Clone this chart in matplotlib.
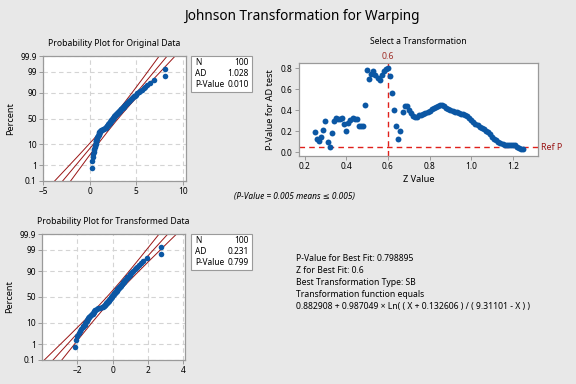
import numpy as np
import matplotlib
matplotlib.use("Agg")
import matplotlib.pyplot as plt
from matplotlib.patches import Rectangle
from statistics import NormalDist

plt.rcParams["font.family"] = ["Noto Sans", "DejaVu Sans"]

# ---------------------------------------------------------------
# data
# ---------------------------------------------------------------
original = [
    0.29, 0.31, 0.35, 0.39, 0.43, 0.47, 0.51, 0.54, 0.58, 0.61,
    0.64, 0.67, 0.69, 0.71, 0.74, 0.76, 0.79, 0.83, 0.88, 0.93,
    0.96, 0.98, 1.01, 1.03, 1.05, 1.08, 1.12, 1.20, 1.32, 1.45,
    1.56, 1.64, 1.71, 1.77, 1.83, 1.88, 1.93, 1.97, 2.02, 2.06,
    2.10, 2.14, 2.19, 2.23, 2.27, 2.32, 2.35, 2.39, 2.43, 2.47,
    2.50, 2.54, 2.58, 2.62, 2.66, 2.71, 2.76, 2.81, 2.86, 2.91,
    2.96, 3.01, 3.07, 3.12, 3.18, 3.24, 3.30, 3.36, 3.42, 3.48,
    3.54, 3.60, 3.65, 3.70, 3.77, 3.84, 3.91, 3.98, 4.05, 4.13,
    4.20, 4.27, 4.36, 4.45, 4.55, 4.65, 4.77, 4.87, 4.99, 5.12,
    5.27, 5.44, 5.64, 5.81, 5.98, 6.19, 6.52, 6.96, 8.07, 8.07,
]

# Johnson SB fit shown in the chart
SB_GAMMA = 0.882908
SB_DELTA = 0.987049
SB_LOW = 0.132606
SB_HIGH = 9.31101

z_values = [
    0.25, 0.26, 0.27, 0.28, 0.29, 0.30, 0.31, 0.32, 0.33, 0.34,
    0.35, 0.36, 0.37, 0.38, 0.39, 0.40, 0.41, 0.42, 0.43, 0.44,
    0.45, 0.46, 0.47, 0.48, 0.49, 0.50, 0.51, 0.52, 0.53, 0.54,
    0.55, 0.56, 0.57, 0.58, 0.59, 0.60, 0.61, 0.62, 0.63, 0.64,
    0.65, 0.66, 0.67, 0.68, 0.69, 0.70, 0.71, 0.72, 0.73, 0.74,
    0.75, 0.76, 0.77, 0.78, 0.79, 0.80, 0.81, 0.82, 0.83, 0.84,
    0.85, 0.86, 0.87, 0.88, 0.89, 0.90, 0.91, 0.92, 0.93, 0.94,
    0.95, 0.96, 0.97, 0.98, 0.99, 1.00, 1.01, 1.02, 1.03, 1.04,
    1.05, 1.06, 1.07, 1.08, 1.09, 1.10, 1.11, 1.12, 1.13, 1.14,
    1.15, 1.16, 1.17, 1.18, 1.19, 1.20, 1.21, 1.22, 1.23, 1.24,
    1.25,
]
p_values = [
    0.19, 0.125, 0.105, 0.15, 0.21, 0.30, 0.10, 0.05, 0.18, 0.30,
    0.33, 0.32, 0.32, 0.33, 0.27, 0.20, 0.28, 0.31, 0.33, 0.32,
    0.32, 0.25, 0.25, 0.25, 0.45, 0.78, 0.70, 0.74, 0.77, 0.73,
    0.71, 0.69, 0.73, 0.77, 0.79, 0.799, 0.72, 0.56, 0.40, 0.25,
    0.125, 0.20, 0.38, 0.44, 0.44, 0.40, 0.37, 0.345, 0.335, 0.34,
    0.35, 0.355, 0.36, 0.375, 0.385, 0.395, 0.41, 0.42, 0.43, 0.44,
    0.45, 0.45, 0.44, 0.425, 0.41, 0.40, 0.395, 0.385, 0.38, 0.37,
    0.365, 0.36, 0.355, 0.345, 0.33, 0.31, 0.29, 0.27, 0.255, 0.245,
    0.235, 0.22, 0.205, 0.19, 0.17, 0.15, 0.13, 0.115, 0.10, 0.085,
    0.075, 0.072, 0.072, 0.072, 0.072, 0.07, 0.065, 0.055, 0.045, 0.035,
    0.03,
]
best_z = 0.6
ref_p = 0.05

stats_original = [("N", "100"), ("AD", "1.028"), ("P-Value", "0.010")]
stats_transformed = [("N", "100"), ("AD", "0.231"), ("P-Value", "0.799")]

percent_ticks = [0.1, 1, 10, 50, 90, 99, 99.9]
percent_labels = ["0.1", "1", "10", "50", "90", "99", "99.9"]

fit_lines = [
    "P-Value for Best Fit: 0.798895",
    "Z for Best Fit: 0.6",
    "Best Transformation Type: SB",
    "Transformation function equals",
    "0.882908 + 0.987049 \u00d7 Ln( ( X + 0.132606 ) / ( 9.31101 - X ) )",
]

transformed = SB_GAMMA + SB_DELTA * np.log(
    (np.array(original) + SB_LOW) / (SB_HIGH - np.array(original)))

# ---------------------------------------------------------------
# styling
# ---------------------------------------------------------------
W, H = 576, 384
BG = "#e8e8e8"
BLUE = "#0b57a4"
DARKRED = "#9a1515"
RED = "#e0201b"
SPINE = "#9a9a9a"
GRID = "#d4d4d4"
FS = 6.0
nd = NormalDist()


def px_axes(fig, left, top, right, bottom):
    return fig.add_axes([left / W, 1 - bottom / H, (right - left) / W, (bottom - top) / H])


def fig_text(fig, x, y, s, **kw):
    fig.text(x / W, 1 - y / H, s, **kw)


def style_axes(ax):
    for sp in ax.spines.values():
        sp.set_color(SPINE)
        sp.set_linewidth(0.9)
    ax.tick_params(direction="out", length=3, width=0.7, color=SPINE,
                   labelsize=FS, pad=1.5)


def prob_plot(ax, data, xlim, xticks):
    x = np.sort(np.asarray(data, dtype=float))
    n = len(x)
    ranks = np.arange(1, n + 1)
    zq = np.array([nd.inv_cdf(p) for p in (ranks - 0.3) / (n + 0.4)])
    mu, sd = x.mean(), x.std(ddof=1)

    zz = np.linspace(-3.3, 3.3, 300)
    fit = mu + sd * zz
    half = 1.96 * sd * np.sqrt(1 / n + zz ** 2 / (2 * n))
    for line in (fit, fit - half, fit + half):
        ax.plot(line, zz, color=DARKRED, lw=0.7, zorder=2)
    ax.scatter(x, zq, s=16, color=BLUE, zorder=3, linewidths=0)

    ax.set_xlim(*xlim)
    ax.set_ylim(nd.inv_cdf(0.001) - 0.02, nd.inv_cdf(0.999) + 0.02)
    ax.set_xticks(xticks)
    ax.set_yticks([nd.inv_cdf(p / 100) for p in percent_ticks])
    ax.set_yticklabels(percent_labels)
    ax.grid(True, ls=(0, (4, 3)), color=GRID, lw=0.8)
    ax.set_axisbelow(True)
    ax.set_ylabel("Percent", fontsize=FS + 0.6, labelpad=4)
    style_axes(ax)


def stats_box(fig, top, rows):
    fig.add_artist(Rectangle((191 / W, 1 - (top + 36) / H), 61 / W, 36 / H,
                             transform=fig.transFigure, facecolor="white",
                             edgecolor=SPINE, lw=0.8))
    for k, (name, val) in enumerate(rows):
        y = top + 6.5 + k * 10.8
        fig_text(fig, 195, y, name, fontsize=FS, va="center", ha="left")
        fig_text(fig, 249, y, val, fontsize=FS, va="center", ha="right")


fig = plt.figure(figsize=(W / 100, H / 100), dpi=100, facecolor=BG)

fig_text(fig, 302, 17, "Johnson Transformation for Warping",
         fontsize=9.8, ha="center", va="center")

# ── Probability plot for original data ────────────────────────
ax1 = px_axes(fig, 43, 56, 186, 181)
prob_plot(ax1, original, (-5, 10.35), [-5, 0, 5, 10])
ax1.set_title("Probability Plot for Original Data", fontsize=FS + 0.2, pad=7)
stats_box(fig, 56, stats_original)

# ── Probability plot for transformed data ─────────────────────
ax2 = px_axes(fig, 42, 234, 185, 360)
prob_plot(ax2, transformed, (-4, 4.1), [-2, 0, 2, 4])
ax2.set_title("Probability Plot for Transformed Data", fontsize=FS + 0.2, pad=7)
stats_box(fig, 234, stats_transformed)

# ── Select a transformation ───────────────────────────────────
ax3 = px_axes(fig, 299, 63, 538, 156)
ax3.scatter(z_values, p_values, s=18, color=BLUE, zorder=3, linewidths=0)
ax3.axvline(best_z, color=RED, ls=(0, (4, 3)), lw=1.0, zorder=2)
ax3.axhline(ref_p, color=RED, ls=(0, (4, 3)), lw=1.0, zorder=2)
ax3.set_xlim(0.173, 1.32)
ax3.set_ylim(-0.035, 0.848)
ax3.set_xticks([0.2, 0.4, 0.6, 0.8, 1.0, 1.2])
ax3.set_xticklabels(["0.2", "0.4", "0.6", "0.8", "1.0", "1.2"])
ax3.set_yticks([0.0, 0.2, 0.4, 0.6, 0.8])
ax3.set_yticklabels(["0.0", "0.2", "0.4", "0.6", "0.8"])
style_axes(ax3)
ax3.set_title("Select a Transformation", fontsize=FS + 0.2, pad=14)
ax3.set_xlabel("Z Value", fontsize=FS + 0.6, labelpad=3)
ax3.set_ylabel("P-Value for AD test", fontsize=FS + 0.6, labelpad=4)
ax3.text(best_z, 1.02, f"{best_z:g}", transform=ax3.get_xaxis_transform(),
         color="#a0302a", fontsize=FS + 0.4, ha="center", va="bottom")
ax3.text(1.012, ref_p, "Ref P", transform=ax3.get_yaxis_transform(),
         color=DARKRED, fontsize=FS + 0.4, ha="left", va="center")

fig_text(fig, 234, 196, "(P-Value = 0.005 means \u2264 0.005)",
         fontsize=FS, style="italic", ha="left", va="center")

for k, line in enumerate(fit_lines):
    fig_text(fig, 296, 258.5 + k * 12.1, line, fontsize=FS + 0.2,
             ha="left", va="center")

fig.savefig("out.png", dpi=100, facecolor=BG)
